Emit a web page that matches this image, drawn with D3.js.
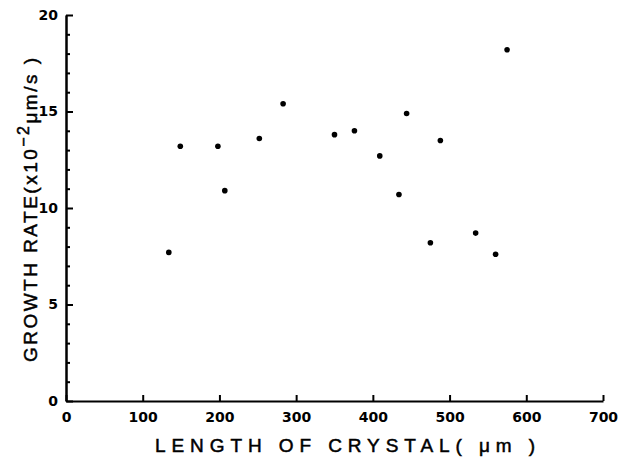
<html>
<head>
<meta charset="utf-8">
<script src="https://cdn.jsdelivr.net/npm/d3@7"></script>
<style>
body {
  margin: 0;
  background-color: #ffffff;
}
.axis path, .axis line {
  stroke: #000;
  stroke-width: 2;
}
.axis text {
  font-family: "DejaVu Sans", sans-serif;
  font-weight: bold;
  font-size: 14px;
  fill: #000;
}
.title {
  font-family: "Liberation Sans", Arial, sans-serif;
  font-size: 19px;
  fill: #000;
  stroke: #000;
  stroke-width: 0.5;
}
</style>
</head>
<body>
<div id="output"></div>
<script>

// crystal length (um) and growth rate (x10^-2 um/s)
var lengths = [134, 149, 198, 207, 252, 283, 350, 376, 409, 434, 444, 475, 488, 534, 560, 575];
var rates   = [7.7, 13.2, 13.2, 10.9, 13.6, 15.4, 13.8, 14.0, 12.7, 10.7, 14.9, 8.2, 13.5, 8.7, 7.6, 18.2];

var xTicks = [0, 100, 200, 300, 400, 500, 600, 700];
var yTicks = [0, 5, 10, 15, 20];
var yMinor = [1, 2, 3, 4, 6, 7, 8, 9, 11, 12, 13, 14, 16, 17, 18, 19];

var width = 623, height = 463;

var svg = d3.select("#output")
  .append("svg")
  .attr("width", width)
  .attr("height", height);

// scales
var x = d3.scaleLinear()
  .domain([0, 700])
  .range([66, 603]);

var y = d3.scaleLinear()
  .domain([0, 20])
  .range([401, 15]);

// X axis - ticks point up into the plot
svg.append("g")
  .attr("class", "axis")
  .attr("transform", "translate(0," + y(0) + ")")
  .call(d3.axisBottom(x)
    .tickValues(xTicks)
    .tickSize(-6)
    .tickSizeOuter(0)
    .tickPadding(11));

// Y axis minor ticks
svg.append("g")
  .attr("class", "axis")
  .attr("transform", "translate(" + x(0) + ",0)")
  .call(d3.axisLeft(y)
    .tickValues(yMinor)
    .tickSize(-4)
    .tickSizeOuter(0)
    .tickFormat(""));

// Y axis major
svg.append("g")
  .attr("class", "axis")
  .attr("transform", "translate(" + x(0) + ",0)")
  .call(d3.axisLeft(y)
    .tickValues(yTicks)
    .tickSize(-7)
    .tickSizeOuter(0)
    .tickPadding(8));

// points
svg.selectAll(".dot")
  .data(lengths)
  .enter()
  .append("circle")
  .attr("class", "dot")
  .attr("cx", function(d) { return x(d); })
  .attr("cy", function(d, i) { return y(rates[i]); })
  .attr("r", 2.8)
  .attr("fill", "#000");

// axis labels
svg.append("text")
  .attr("class", "title")
  .attr("x", 155)
  .attr("y", 452)
  .attr("textLength", 380)
  .attr("lengthAdjust", "spacing")
  .text("LENGTH OF CRYSTAL( \u03bcm )");

var yt = svg.append("text")
  .attr("class", "title")
  .attr("transform", "translate(37,362) rotate(-90)")
  .attr("x", 0)
  .attr("y", 0)
  .attr("textLength", 304)
  .attr("lengthAdjust", "spacing");
yt.append("tspan").text("GROWTH RATE(x10");
yt.append("tspan").attr("dy", -8).attr("font-size", "16px").text("\u22122");
yt.append("tspan").attr("dy", 8).text("\u03bcm/s )");

</script>
</body>
</html>
